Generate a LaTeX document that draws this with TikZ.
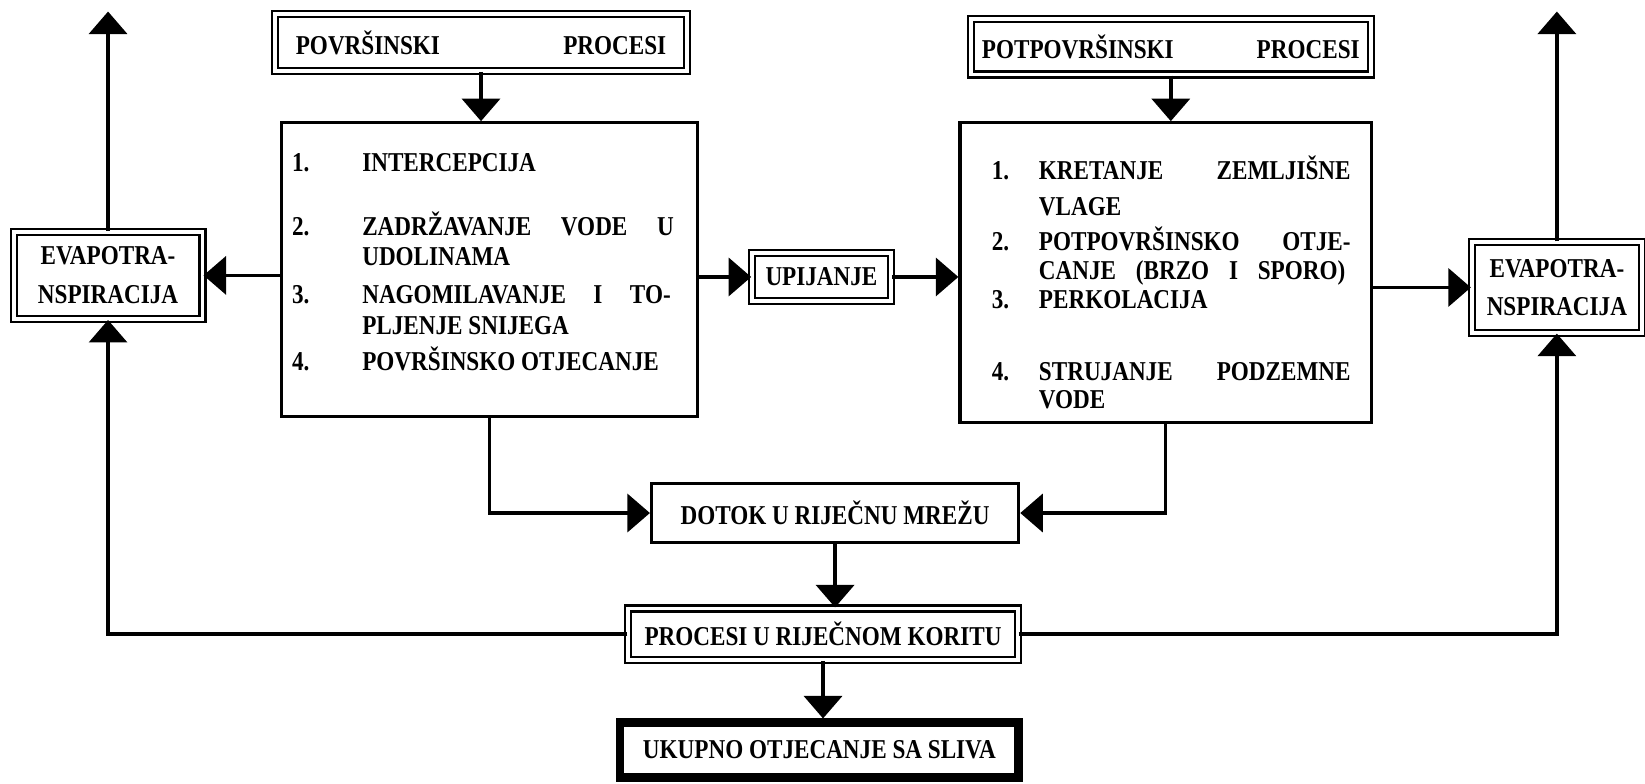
\documentclass[tikz,border=0pt]{standalone}
\usepackage{fontspec}
\setmainfont[FakeStretch=0.85]{Liberation Serif}
\usetikzlibrary{arrows.meta}
\newlength\px
\setlength\px{0.02098cm}

\tikzset{
  txt/.style={font=\fontsize{15.5}{22}\selectfont\bfseries, inner sep=0pt},
  box/.style={draw, line width=1.8pt, txt},
  dbox/.style={draw, double, line width=1.2pt, double distance=2.2pt, txt},
  bbox/.style={draw, line width=5pt, txt},
  item/.style={txt, anchor=west, text height=10.3pt, text depth=0pt},
  conn/.style={line width=2pt},
  arr/.style={conn, -{Triangle[length=0.45cm, width=0.76cm]}}
}

\begin{document}
\begin{tikzpicture}[x=0.02098cm, y=-0.02098cm]
  \useasboundingbox (0,0) rectangle (1568,747);

  % gornji okviri
  \node [dbox, minimum width=393\px, minimum height=54\px] (povrs) at (458.5,40.5)
    {\makebox[353\px][s]{POVRŠINSKI PROCESI}};
  \node [dbox, minimum width=381\px, minimum height=53\px] (potpovrs) at (1116,44.5)
    {\makebox[360\px][s]{POTPOVRŠINSKI PROCESI}};

  % glavni okviri
  \node [box, minimum width=397\px, minimum height=280\px] (box1) at (466.5,257) {};
  \node [box, minimum width=392\px, minimum height=286\px] (box2) at (1111,260) {};

  \foreach \y/\num [count=\i] in {155/1., 216/2., 281/3., 345/4.}
    \node [item] (n1-\i) at (278,\y) {\num};
  \foreach \y/\line [count=\i] in {155/INTERCEPCIJA,
      216/{\makebox[297\px][s]{ZADRŽAVANJE VODE U}}, 244/UDOLINAMA,
      281/{\makebox[294\px][s]{NAGOMILAVANJE I TO-}}, 310/PLJENJE SNIJEGA,
      345/POVRŠINSKO OTJECANJE}
    \node [item] (l1-\i) at (345,\y) {\line};

  \foreach \y/\num [count=\i] in {162/1., 230/2., 285/3., 354/4.}
    \node [item] (n2-\i) at (945,\y) {\num};
  \foreach \y/\line [count=\i] in {162/{\makebox[297\px][s]{KRETANJE ZEMLJIŠNE}},
      197/VLAGE, 230/{\makebox[297\px][s]{POTPOVRŠINSKO OTJE-}},
      258/{\makebox[292\px][s]{CANJE (BRZO I SPORO)}}, 285/PERKOLACIJA,
      354/{\makebox[297\px][s]{STRUJANJE PODZEMNE}}, 381/VODE}
    \node [item] (l2-\i) at (990,\y) {\line};

  % ostali okviri
  \node [dbox, minimum width=180\px, minimum height=83\px, align=center] (evapL) at (103,262.5)
    {EVAPOTRA-\\NSPIRACIJA};
  \node [dbox, minimum width=162\px, minimum height=86\px, align=center] (evapR) at (1484,274)
    {EVAPOTRA-\\NSPIRACIJA};
  \node [dbox, minimum width=132\px, minimum height=46\px] (upij) at (783,264) {UPIJANJE};
  \node [box, minimum width=350\px, minimum height=56\px] (dotok) at (796,489)
    {DOTOK U RIJEČNU MREŽU};
  \node [dbox, minimum width=371\px, minimum height=49\px] (korito) at (784.5,604.5)
    {PROCESI U RIJEČNOM KORITU};
  \node [bbox, minimum width=380\px, minimum height=52\px] (ukupno) at (781,715)
    {UKUPNO OTJECANJE SA SLIVA};

  \coordinate (topL) at (103,11);
  \coordinate (topR) at (1484,11);

  % veze
  \draw [arr] (povrs.south) -- (povrs.south |- box1.north);
  \draw [arr] (potpovrs.south) -- (potpovrs.south |- box2.north);
  \draw [arr] (box1.west |- evapL) -- (evapL.east);
  \draw [arr] (box1.east |- upij) -- (upij.west);
  \draw [arr] (upij.east) -- (upij.east -| box2.west);
  \draw [arr] (box2.east |- evapR) -- (evapR.west);
  \draw [arr] (box1.south) |- (dotok.west);
  \draw [arr] (box2.south) |- (dotok.east);
  \draw [arr] (dotok.south) -- (dotok.south |- korito.north);
  \draw [arr] (korito.south) -- (korito.south |- ukupno.north);
  \draw [arr] (korito.west) -| (evapL.south);
  \draw [arr] (korito.east) -| (evapR.south);
  \draw [arr] (evapL.north) -- (topL);
  \draw [arr] (evapR.north) -- (topR);

\end{tikzpicture}
\end{document}
